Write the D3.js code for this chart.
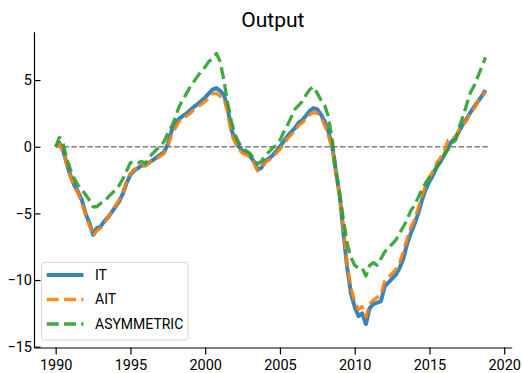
<!DOCTYPE html>
<html>
<head>
<meta charset="utf-8">
<script src="https://cdn.jsdelivr.net/npm/d3@7"></script>
<style>
  body { margin: 0; background: #fff; }
  text { font-family: Roboto, "DejaVu Sans Condensed", sans-serif; fill: #000; }
</style>
</head>
<body>
<script>
// Chart size
var svgWidth = 522;
var svgHeight = 373;

// Plot area edges, in pixels
var plotLeft = 34, plotRight = 511.7, plotTop = 31.7, plotBottom = 347.5;

// Quarterly dates, 1990Q1 .. 2018Q4
var dates = d3.range(1990, 2019, 0.25);

// Series values (one row per year, four quarters)
var itValues = [
  0.0, 0.3, -0.3, -1.3,
  -2.2, -2.9, -3.4, -4.0,
  -5.0, -5.7, -6.6, -6.1,
  -6.0, -5.6, -5.3, -4.9,
  -4.5, -4.1, -3.5, -2.7,
  -2.1, -1.8, -1.6, -1.4,
  -1.4, -1.2, -1.0, -0.8,
  -0.6, -0.4, 0.2, 1.2,
  1.7, 2.1, 2.3, 2.5,
  2.75, 3.0, 3.2, 3.45,
  3.7, 4.0, 4.3, 4.4,
  4.2, 3.9, 2.9, 1.3,
  0.5, 0.0, -0.3, -0.45,
  -0.7, -1.1, -1.7, -1.6,
  -1.1, -0.9, -0.65, -0.35,
  0.0, 0.4, 0.8, 1.1,
  1.4, 1.8, 2.0, 2.35,
  2.7, 2.9, 2.8, 2.4,
  1.9, 1.1, 0.0, -1.9,
  -3.7, -6.5, -9.1, -11.0,
  -12.0, -12.7, -12.5, -13.3,
  -12.1, -11.8, -11.7, -11.6,
  -10.5, -10.2, -9.9, -9.6,
  -9.1, -8.4, -7.3, -6.5,
  -5.8, -5.0, -4.0, -3.2,
  -2.6, -2.1, -1.5, -1.1,
  -0.6, 0.0, 0.4, 0.7,
  1.2, 1.7, 2.1, 2.6,
  3.0, 3.4, 3.8, 4.25
];

var aitValues = [
  0.0, 0.2, -0.4, -1.4,
  -2.3, -3.0, -3.5, -4.2,
  -5.1, -5.9, -6.7, -6.3,
  -6.1, -5.7, -5.3, -4.9,
  -4.4, -4.0, -3.4, -2.6,
  -2.0, -1.7, -1.6, -1.4,
  -1.4, -1.2, -1.0, -0.9,
  -0.7, -0.5, 0.0, 0.9,
  1.4, 1.9, 2.1, 2.3,
  2.5, 2.8, 3.0, 3.2,
  3.4, 3.7, 4.0, 4.0,
  3.8, 3.6, 2.6, 1.0,
  0.3, -0.2, -0.5, -0.6,
  -0.8, -1.2, -1.8, -1.6,
  -1.2, -1.0, -0.8, -0.5,
  -0.2, 0.2, 0.6, 0.9,
  1.2, 1.6, 1.8, 2.1,
  2.4, 2.6, 2.5, 2.2,
  1.6, 0.8, -0.2, -2.0,
  -3.8, -6.2, -8.9, -10.6,
  -11.6, -12.2, -12.0, -12.8,
  -11.8, -11.5, -11.3, -11.1,
  -10.1, -9.8, -9.5, -9.2,
  -8.7, -7.9, -6.9, -6.1,
  -5.5, -4.6, -3.7, -2.9,
  -2.3, -1.8, -1.2, -0.8,
  -0.3, 0.5, 0.6, 0.8,
  1.3, 1.6, 2.0, 2.6,
  2.9, 3.4, 3.7, 4.15
];

var asymValues = [
  0.0, 0.7, 0.2, -0.9,
  -1.75, -2.4, -2.9, -3.2,
  -3.6, -4.0, -4.5, -4.5,
  -4.25, -4.1, -3.8, -3.5,
  -3.25, -2.9, -2.4, -1.8,
  -1.2, -1.1, -1.2, -1.1,
  -1.25, -0.8, -0.5, -0.2,
  0.0, 0.4, 1.0, 1.5,
  2.2, 3.0, 3.5, 4.0,
  4.5, 4.9, 5.3, 5.7,
  6.0, 6.4, 6.6, 7.0,
  6.4, 5.0, 3.3, 1.9,
  0.9, 0.3, -0.1, -0.3,
  -0.5, -0.9, -1.3, -1.1,
  -0.7, -0.4, -0.1, 0.1,
  0.5, 1.1, 1.6, 2.2,
  2.8, 3.1, 3.4, 3.9,
  4.3, 4.5, 4.0, 3.5,
  3.1, 2.2, 0.5, -1.8,
  -3.6, -5.5, -7.3, -8.3,
  -8.9, -9.1, -9.1, -9.7,
  -8.9, -8.7, -8.9, -8.4,
  -7.9, -7.6, -7.3, -7.0,
  -6.5, -6.0, -5.5, -4.8,
  -4.4, -3.8, -3.2, -2.7,
  -2.3, -1.9, -1.5, -1.0,
  -0.6, -0.2, 0.3, 0.5,
  1.5, 2.3, 3.2, 4.1,
  4.6, 5.3, 6.0, 6.7
];

var seriesNames = ["IT", "AIT", "ASYMMETRIC"];
var xTicks = [1990, 1995, 2000, 2005, 2010, 2015, 2020];
var yTicks = [-15, -10, -5, 0, 5];

var seriesStyle = {
  "IT": { color: "#1f77b4", width: 4, dash: null },
  "AIT": { color: "#ff7f0e", width: 3.3, dash: "12,5.3" },
  "ASYMMETRIC": { color: "#2ca02c", width: 3.3, dash: "12,5.3" }
};
var seriesValues = { "IT": itValues, "AIT": aitValues, "ASYMMETRIC": asymValues };

var svg = d3.select("body")
  .append("svg")
  .attr("width", svgWidth)
  .attr("height", svgHeight);

// Scales
var xScale = d3.scaleLinear()
  .domain([1988.55, 2020.5])
  .range([plotLeft, plotRight]);

var yScale = d3.scaleLinear()
  .domain([-15.06, 8.63])
  .range([plotBottom, plotTop]);

// Zero reference line
svg.append("line")
  .attr("x1", xScale(1990))
  .attr("x2", xScale(2019))
  .attr("y1", yScale(0))
  .attr("y2", yScale(0))
  .attr("stroke", "#808080")
  .attr("stroke-width", 1.4)
  .attr("stroke-dasharray", "5.5,2.4");

// Lines
var drawLine = d3.line()
  .x((d, i) => xScale(dates[i]))
  .y(d => yScale(d));

seriesNames.forEach(function(name) {
  var st = seriesStyle[name];
  svg.append("path")
    .attr("d", drawLine(seriesValues[name]))
    .attr("fill", "none")
    .attr("stroke", st.color)
    .attr("stroke-width", st.width)
    .attr("stroke-opacity", 0.9)
    .attr("stroke-linejoin", "round")
    .attr("stroke-dasharray", st.dash);
});

// Bottom axis (ticks outward)
var bottomAxis = d3.axisBottom(xScale)
  .tickValues(xTicks)
  .tickFormat(d3.format("d"))
  .tickSizeInner(7)
  .tickSizeOuter(0)
  .tickPadding(5);

var gx = svg.append("g")
  .attr("transform", `translate(0, ${plotBottom})`)
  .call(bottomAxis);
gx.select(".domain").attr("stroke", "#000").attr("stroke-width", 1.2);
gx.selectAll(".tick line").attr("stroke", "#000").attr("stroke-width", 1.2);
gx.selectAll("text").style("font-size", "14.5px").attr("fill", "#000");

// Left axis (ticks drawn to the right of the spine, as in the reference)
var leftAxis = d3.axisLeft(yScale)
  .tickValues(yTicks)
  .tickFormat(d => d < 0 ? "\u2212" + Math.abs(d) : d)
  .tickSizeInner(-6.5)
  .tickSizeOuter(0)
  .tickPadding(9);

var gy = svg.append("g")
  .attr("transform", `translate(${plotLeft}, 0)`)
  .call(leftAxis);
gy.select(".domain").attr("stroke", "#000").attr("stroke-width", 1.2);
gy.selectAll(".tick line").attr("stroke", "#000").attr("stroke-width", 1.2);
gy.selectAll("text").style("font-size", "14.5px").attr("fill", "#000")
  .attr("x", -2);

// Title
svg.append("text")
  .attr("x", (plotLeft + plotRight) / 2)
  .attr("y", 27)
  .attr("text-anchor", "middle")
  .style("font-size", "21px")
  .text("Output");

// Legend
var legend = svg.append("g");
legend.append("rect")
  .attr("x", 41.5)
  .attr("y", 262.3)
  .attr("width", 146.5)
  .attr("height", 77.7)
  .attr("rx", 3)
  .attr("fill", "#fff")
  .attr("fill-opacity", 0.8)
  .attr("stroke", "#d6d6d6")
  .attr("stroke-width", 1);

var legendRows = [275, 299.5, 324];
seriesNames.forEach(function(name, i) {
  var st = seriesStyle[name];
  legend.append("line")
    .attr("x1", 46.7)
    .attr("x2", 83.5)
    .attr("y1", legendRows[i])
    .attr("y2", legendRows[i])
    .attr("stroke", st.color)
    .attr("stroke-width", st.width)
    .attr("stroke-opacity", 0.9)
    .attr("stroke-dasharray", st.dash);
  legend.append("text")
    .attr("x", 95)
    .attr("y", legendRows[i])
    .attr("dy", "0.35em")
    .style("font-size", "14px")
    .text(name);
});
</script>
</body>
</html>
